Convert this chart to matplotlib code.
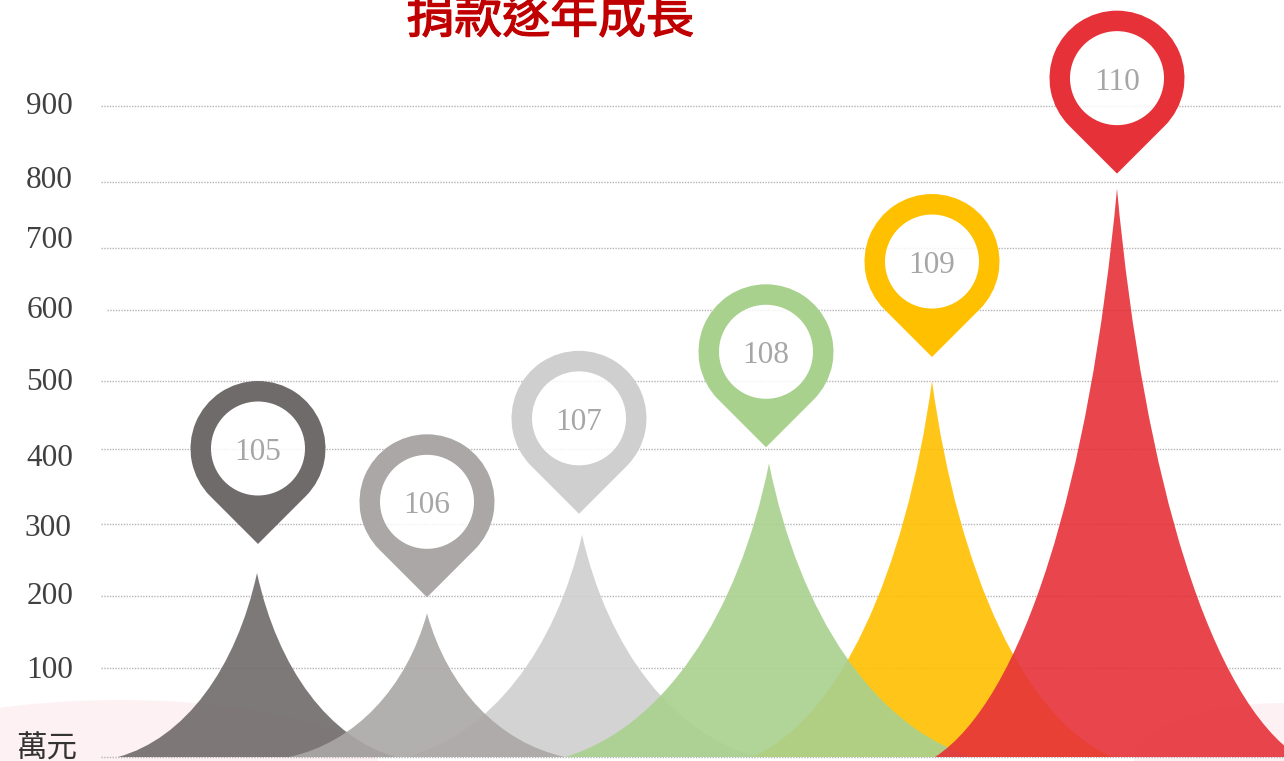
import matplotlib
matplotlib.use('Agg')
import matplotlib.pyplot as plt
import matplotlib.patheffects as pe
from matplotlib.patches import PathPatch, Ellipse, Circle
from matplotlib.path import Path
from matplotlib.transforms import IdentityTransform
import numpy as np

# datos
years = ['105', '106', '107', '108', '109', '110']
amounts = [232, 176, 285, 381, 500, 790]
tick_values = [0, 100, 200, 300, 400, 500, 600, 700, 800, 900]
tick_labels = ['萬元', '100', '200', '300', '400', '500', '600', '700', '800', '900']
title = '捐款逐年成長'

# el eje original no es regular: altura en pixeles de cada marca
tick_px = [757, 668, 596, 524, 449, 381, 310, 248, 182, 106]
grid_start = [101, 101, 101, 101, 101, 101, 107, 101, 101, 101]
grid_end = [1284, 1281, 1281, 1281, 1281, 1278, 1281, 1281, 1282, 1281]
label_shift = [8, -3, 0, -4, -10, -1, 0, 8, 2, 0]
label_right = [77, 73, 73, 71, 73, 73, 73, 73, 73, 73]

# estilo de picos y marcadores
peak_x = [257, 427, 582, 769, 932, 1117]
peak_half = [139, 138, 176, 204, 180, 182]
pin_x = [258, 427, 579, 766, 932, 1117]
pin_gap = [29, 16, 21, 16, 24, 15]
pin_colors = ['#6f6b6a', '#aaa7a6', '#d0cfcf', '#a9d18e', '#ffc000', '#e63138']
draw_order = [0, 2, 1, 4, 3, 5]
peak_alpha = 0.9

W, H = 1284, 761
forward_vals = np.array([-5.5] + tick_values + [1150.0])
forward_px = -np.array([761.0] + tick_px + [0.0])


def forward(v):
    return np.interp(v, forward_vals, forward_px)


def inverse(p):
    return np.interp(p, forward_px, forward_vals)


fig = plt.figure(figsize=(W / 100, H / 100), dpi=100, facecolor='white')
ax = fig.add_axes([0, 0, 1, 1])
ax.set_yscale('function', functions=(forward, inverse))
ax.set_xlim(0, W)
ax.set_ylim(-5.5, 1150)
ax.axis('off')

# manchas rosadas del fondo
ident = IdentityTransform()
ax.add_patch(Ellipse((120, -8), 520, 138, fc='#fdf1f4', ec='none', transform=ident, zorder=0))
ax.add_patch(Ellipse((1284, 0), 300, 116, fc='#fdf1f4', ec='none', transform=ident, zorder=0))

# lineas de la cuadricula y etiquetas
for v, lab, x0, x1, shift, xr in zip(tick_values, tick_labels, grid_start, grid_end, label_shift, label_right):
    ax.plot([x0, x1], [v, v], color='#b5b5b5', lw=1, ls=(0, (1, 1)), zorder=1)
    if lab == '萬元':
        ax.annotate(lab, xy=(xr, v), xytext=(0, shift * 0.72), textcoords='offset points', ha='right',
                    va='center', fontsize=22, color='#333333', family='Noto Sans CJK TC')
    else:
        ax.annotate(lab, xy=(xr, v), xytext=(0, shift * 0.72), textcoords='offset points', ha='right',
                    va='center', fontsize=22.5, color='#404040', family='Liberation Serif')

# picos
for i in draw_order:
    top = ax.transData.transform((peak_x[i], amounts[i]))
    base = ax.transData.transform((peak_x[i], 0))
    h = top[1] - base[1]
    cx = top[0]
    w = peak_half[i]
    y0 = base[1]
    verts = [(cx - w, y0),
             (cx - 0.52 * w, y0 + 0.1 * h), (cx - 0.15 * w, y0 + 0.48 * h), (cx, y0 + h),
             (cx + 0.15 * w, y0 + 0.48 * h), (cx + 0.52 * w, y0 + 0.1 * h), (cx + w, y0),
             (cx - w, y0)]
    codes = [Path.MOVETO, Path.CURVE4, Path.CURVE4, Path.CURVE4,
             Path.CURVE4, Path.CURVE4, Path.CURVE4, Path.CLOSEPOLY]
    ax.add_patch(PathPatch(Path(verts, codes), fc=pin_colors[i], ec='none', alpha=peak_alpha,
                           transform=ident, zorder=2))

# marcadores con el año
R_OUT = 67.5
R_IN = 47
for i, year in enumerate(years):
    top = ax.transData.transform((peak_x[i], amounts[i]))
    tip_y = top[1] + pin_gap[i]
    cx = ax.transData.transform((pin_x[i], 0))[0]
    cy = tip_y + R_OUT * np.sqrt(2)
    arc = Path.arc(-45, 225)
    outer_v = arc.vertices * R_OUT + [cx, cy]
    v = list(map(tuple, outer_v)) + [(cx, tip_y), (cx, tip_y)]
    c = list(arc.codes) + [Path.LINETO, Path.CLOSEPOLY]
    hole = Path.circle((cx, cy), R_IN)
    hv = list(map(tuple, hole.vertices[:-1][::-1])) + [tuple(hole.vertices[0])]
    hc = [Path.MOVETO] + [Path.CURVE4] * (len(hv) - 2) + [Path.CLOSEPOLY]
    ax.add_patch(Circle((cx, cy), R_IN + 1, fc='white', ec='none', alpha=0.82, transform=ident, zorder=3))
    ax.add_patch(PathPatch(Path(v + hv, c + hc), fc=pin_colors[i], ec='none',
                           transform=ident, zorder=3.1))
    ax.text(cx, cy - 4, year, transform=ident, ha='center', va='center', fontsize=22.5,
            color='#a6a6a6', family='Liberation Serif', zorder=4)

# el titulo va recortado arriba, igual que en el original
t = fig.text(550 / W, 1 - 19 / H, title, ha='center', va='center', fontsize=34.5, color='#c00000',
             family='Noto Sans CJK TC')
t.set_path_effects([pe.withStroke(linewidth=1.0, foreground='#c00000')])

fig.savefig('out.png', dpi=100)
